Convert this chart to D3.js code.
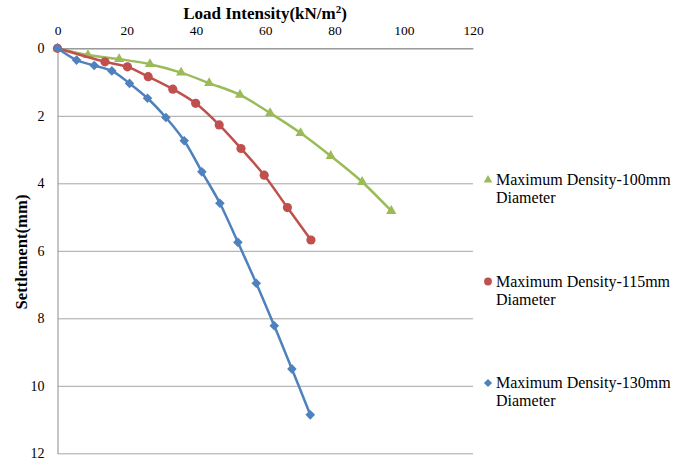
<!DOCTYPE html>
<html>
<head>
<meta charset="utf-8">
<script src="https://cdn.jsdelivr.net/npm/d3@7"></script>
<style>
  html, body { margin: 0; padding: 0; background: #fff; }
  svg { display: block; }
</style>
</head>
<body>
<svg id="chart" width="689" height="460"></svg>
<script>
// ---- data ----
const xTicks = [0, 20, 40, 60, 80, 100, 120];
const yTicks = [0, 2, 4, 6, 8, 10, 12];

const seriesNames = [
  "Maximum Density-100mm Diameter",
  "Maximum Density-115mm Diameter",
  "Maximum Density-130mm Diameter"
];

const load100 = [0, 8.8, 17.8, 26.7, 35.7, 43.8, 52.7, 61.4, 70.2, 78.9, 88.0, 96.4];
const settle100 = [0, 0.20, 0.32, 0.47, 0.72, 1.03, 1.38, 1.92, 2.51, 3.19, 3.96, 4.82];

const load115 = [0, 13.7, 20.2, 26.2, 33.3, 39.9, 46.7, 53.0, 59.7, 66.4, 73.2];
const settle115 = [0, 0.40, 0.55, 0.84, 1.21, 1.63, 2.27, 2.97, 3.76, 4.72, 5.68];

const load130 = [0, 5.5, 10.6, 15.7, 20.8, 26.0, 31.3, 36.6, 41.7, 46.9, 52.1, 57.4, 62.6, 67.7, 73.0];
const settle130 = [0, 0.35, 0.51, 0.67, 1.04, 1.48, 2.05, 2.74, 3.66, 4.59, 5.75, 6.96, 8.22, 9.50, 10.86];

const colors = ["#9BBB59", "#C0504D", "#4F81BD"];
const markers = ["triangle", "circle", "diamond"];
const FONT = "'Liberation Serif', 'Times New Roman', serif";

// ---- layout ----
const svg = d3.select("#chart");
const x = d3.scaleLinear().domain([0, 120]).range([57.5, 473]);
const y = d3.scaleLinear().domain([0, 12]).range([48.3, 453.3]);

// gridlines + y axis
const yAxis = d3.axisLeft(y).tickValues(yTicks).tickFormat(d3.format("d"))
  .tickSizeInner(-(473 - 57.5)).tickSizeOuter(0).tickPadding(13);
const gy = svg.append("g").attr("transform", "translate(57.5,0)").call(yAxis);
gy.select(".domain").attr("stroke", "#8C8C8C").attr("stroke-width", 1);
gy.selectAll(".tick line").attr("stroke", "#A6A6A6").attr("stroke-width", 1);
gy.selectAll(".tick text").style("font-family", FONT).style("font-size", "14px").attr("fill", "#000");

// x axis on top
const xAxis = d3.axisTop(x).tickValues(xTicks).tickFormat(d3.format("d"))
  .tickSize(0).tickPadding(13);
const gx = svg.append("g").attr("transform", "translate(0,48.3)").call(xAxis);
gx.select(".domain").attr("stroke", "#8C8C8C").attr("stroke-width", 1);
gx.selectAll(".tick text").style("font-family", FONT).style("font-size", "13.5px").attr("fill", "#000");

// titles
const t = svg.append("text").attr("x", 265).attr("y", 19).attr("text-anchor", "middle")
  .style("font-family", FONT).style("font-weight", "bold").style("font-size", "17px");
t.append("tspan").text("Load Intensity(kN/m");
t.append("tspan").text("2").attr("dy", -6).style("font-size", "11px");
t.append("tspan").text(")").attr("dy", 6);

svg.append("text").attr("transform", "translate(27,252) rotate(-90)")
  .attr("text-anchor", "middle").style("font-family", FONT)
  .style("font-weight", "bold").style("font-size", "17px")
  .attr("textLength", 115).attr("lengthAdjust", "spacingAndGlyphs")
  .text("Settlement(mm)");

// ---- series ----
const series = [
  { loads: load100, settles: settle100 },
  { loads: load115, settles: settle115 },
  { loads: load130, settles: settle130 }
];

function markerPath(type, s) {
  if (type === "triangle") return d3.symbol(d3.symbolTriangle, 45 * s * s)();
  if (type === "circle") return d3.symbol(d3.symbolCircle, 66 * s * s)();
  const h = 4.8 * s;
  return `M0,${-h}L${h},0L0,${h}L${-h},0Z`;
}

const line = d3.line().x(d => x(d[0])).y(d => y(d[1])).curve(d3.curveCatmullRom.alpha(0.5));

series.forEach((s, i) => {
  const pts = s.loads.map((v, j) => [v, s.settles[j]]);
  const g = svg.append("g");
  g.append("path").attr("d", line(pts)).attr("fill", "none")
    .attr("stroke", colors[i]).attr("stroke-width", 2.5).attr("stroke-linejoin", "round");
  g.selectAll("path.m").data(pts).enter().append("path").attr("class", "m")
    .attr("transform", d => `translate(${x(d[0])},${y(d[1])})`)
    .attr("d", markerPath(markers[i], 1))
    .attr("fill", colors[i]);
});

// ---- legend ----
const legendY = [185, 286.5, 388];
seriesNames.forEach((name, i) => {
  const parts = name.split(" Diameter");
  svg.append("path").attr("transform", `translate(488,${legendY[i] - 5})`)
    .attr("d", markerPath(markers[i], 0.85)).attr("fill", colors[i]);
  const tx = svg.append("text").attr("x", 496).attr("y", legendY[i])
    .style("font-family", FONT).style("font-size", "16px").attr("fill", "#000");
  tx.append("tspan").attr("x", 496).text(parts[0]);
  tx.append("tspan").attr("x", 496).attr("dy", 18).text("Diameter");
});
</script>
</body>
</html>
